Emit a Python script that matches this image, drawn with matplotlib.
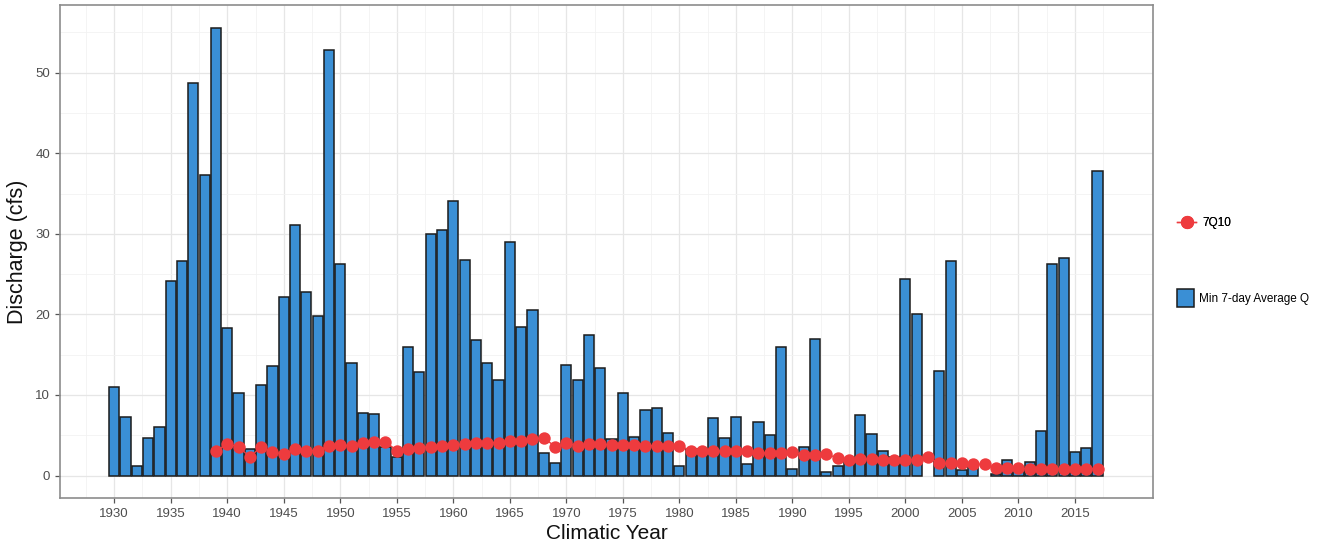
import numpy as np
import matplotlib
matplotlib.use("Agg")
import matplotlib.pyplot as plt
from matplotlib.lines import Line2D
from matplotlib.patches import Patch

plt.rcParams['font.family'] = ['Liberation Sans', 'DejaVu Sans']

years = list(range(1930, 2018))
min7q = [11.0, 7.3, 1.2, 4.7, 6.0, 24.1, 26.6, 48.7, 37.3, 55.6,
         18.3, 10.2, 3.3, 11.2, 13.6, 22.2, 31.1, 22.8, 19.8, 52.8,
         26.3, 14.0, 7.8, 7.7, 3.6, 2.3, 16.0, 12.9, 30.0, 30.5,
         34.1, 26.7, 16.8, 14.0, 11.8, 29.0, 18.5, 20.5, 2.8, 1.6,
         13.7, 11.8, 17.5, 13.3, 4.5, 10.2, 4.8, 8.2, 8.4, 5.3,
         1.2, 3.3, 3.3, 7.1, 4.7, 7.3, 1.4, 6.6, 5.0, 15.9,
         0.8, 3.6, 16.9, 0.4, 1.2, 2.1, 7.5, 5.1, 3.0, 2.3,
         24.4, 20.1, np.nan, 13.0, 26.6, 0.7, 1.3, np.nan, 0.25, 1.9,
         1.0, 1.7, 5.5, 26.3, 27.0, 2.9, 3.4, 37.8]

q710_years = list(range(1939, 2018))
q710 = [3.1, 3.9, 3.6, 2.3, 3.6, 2.9, 2.7, 3.3, 3.1, 3.1,
        3.7, 3.8, 3.7, 4.0, 4.2, 4.2, 3.1, 3.3, 3.4, 3.6,
        3.7, 3.8, 3.9, 4.0, 4.1, 4.1, 4.3, 4.3, 4.5, 4.7,
        3.6, 4.0, 3.7, 3.9, 3.9, 3.8, 3.8, 3.8, 3.7, 3.7,
        3.7, 3.7, 3.1, 3.1, 3.1, 3.0, 3.0, 3.1, 2.8, 2.8,
        2.8, 2.9, 2.6, 2.6, 2.7, 2.15, 1.95, 2.0, 2.1, 1.95,
        1.95, 1.95, 1.95, 2.3, 1.5, 1.5, 1.5, 1.4, 1.4, 0.9,
        1.0, 0.9, 0.85, 0.85, 0.85, 0.85, 0.85, 0.85, 0.85]

xticks = list(range(1930, 2016, 5))
yticks = [0, 10, 20, 30, 40, 50]

bar_color = '#3A8FD5'
red = '#EE3B3E'

fig = plt.figure(figsize=(13.24, 5.44), dpi=100)
ax = fig.add_axes([0.0453, 0.0846, 0.8255, 0.9062])

ax.bar(years, min7q, width=0.9, color=bar_color, edgecolor='#1b1b1b',
       linewidth=1.1, zorder=2)
ax.plot(q710_years, q710, color=red, linewidth=1.0, zorder=3)
ax.scatter(q710_years, q710, s=80, color=red, zorder=4, linewidths=0)

ax.set_xlim(1925.2, 2021.9)
ax.set_ylim(-2.78, 58.4)
ax.set_xticks(xticks)
ax.set_xticklabels([str(t) for t in xticks])
ax.set_yticks(yticks)
ax.set_xticks(np.arange(1927.5, 2021, 5), minor=True)
ax.set_yticks(np.arange(5, 58, 10), minor=True)

ax.grid(True, which='major', color='#e6e6e6', linewidth=0.9, zorder=0)
ax.grid(True, which='minor', color='#f2f2f2', linewidth=0.6, zorder=0)
ax.set_axisbelow(True)

for s in ax.spines.values():
    s.set_color('#8c8c8c')
    s.set_linewidth(1.2)

ax.tick_params(axis='both', which='major', colors='#555555', labelsize=9.5,
               length=3.5, width=0.9, labelcolor='#4d4d4d')
ax.tick_params(axis='both', which='minor', length=0)

ax.set_xlabel('Climatic Year', fontsize=15, color='#111111', labelpad=3)
ax.set_ylabel('Discharge (cfs)', fontsize=15.5, color='#111111', labelpad=5)

h1 = Line2D([0], [0], color=red, marker='o', markersize=8.5, linewidth=1.0)
leg1 = fig.legend(handles=[h1], labels=['7Q10'], loc='center left',
                  bbox_to_anchor=(0.881, 1 - 223 / 544), frameon=False,
                  fontsize=8.5, handlelength=1.6, handletextpad=0.5)
fig.add_artist(leg1)
h2 = Patch(facecolor=bar_color, edgecolor='#1b1b1b', linewidth=1.1)
leg2 = fig.legend(handles=[h2], labels=['Min 7-day Average Q'], loc='center left',
                  bbox_to_anchor=(0.881, 1 - 298 / 544), frameon=False,
                  fontsize=8.5, handlelength=1.45, handleheight=2.0,
                  handletextpad=0.4)

fig.savefig('out.png', dpi=100)
